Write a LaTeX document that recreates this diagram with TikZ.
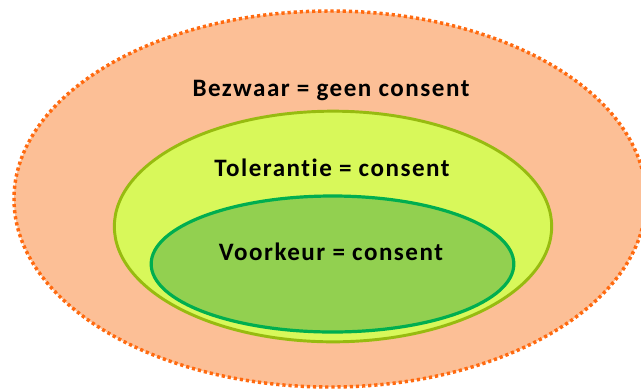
\documentclass[tikz,border=0pt]{standalone}
\usepackage{fontspec}
\setmainfont{Carlito}[LetterSpace=6, Ligatures=NoCommon]
\usepackage{xcolor}
\usetikzlibrary{shapes.geometric}

\definecolor{peach}{HTML}{FCBF96}
\definecolor{dotorange}{HTML}{FF6A10}
\definecolor{lime}{HTML}{D8F85A}
\definecolor{olive}{HTML}{97BB10}
\definecolor{leaf}{HTML}{92D050}
\definecolor{emerald}{HTML}{00AE50}

\tikzset{
  zone/.style={ellipse, inner sep=0pt, outer sep=0pt},
  caption/.style={font=\bfseries\fontsize{18.8}{20}\selectfont, text=black}
}

\begin{document}
\begin{tikzpicture}[x=0.75pt, y=-0.75pt]
        \useasboundingbox (0,0) rectangle (641,390);
        \clip (0,0) rectangle (641,390);

        % Nested zones
        \node[zone, fill=peach, draw=dotorange, line width=2.6pt,
              dash pattern=on 2.4pt off 2.2pt,
              minimum width=474pt, minimum height=282pt] (bezwaar) at (330, 199) {};
        \node[zone, fill=lime, draw=olive, line width=2.2pt,
              minimum width=328pt, minimum height=173pt] (tolerantie) at (333, 226.5) {};
        \node[zone, fill=leaf, draw=emerald, line width=2.4pt,
              minimum width=272pt, minimum height=102pt] (voorkeur) at (332.5, 264) {};

        % Labels
        \node[caption] (bezwaarText) at (331, 90) {Bezwaar = geen consent};
        \node[caption] (tolerantieText) at (332, 168) {Tolerantie = consent};
        \node[caption] (voorkeurText) at (331, 252) {Voorkeur = consent};
    \end{tikzpicture}
\end{document}
